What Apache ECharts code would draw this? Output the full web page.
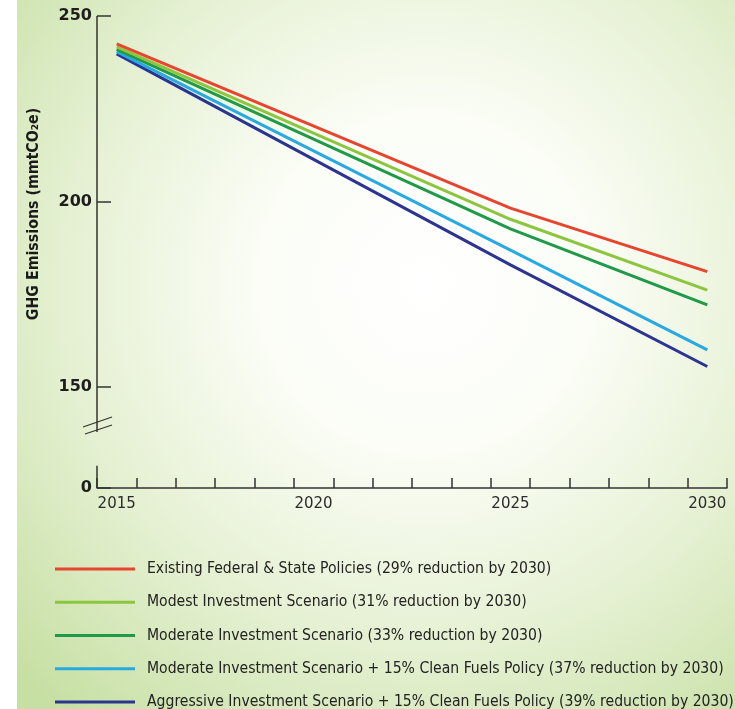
<!DOCTYPE html>
<html>
<head>
<meta charset="utf-8">
<script src="https://cdn.jsdelivr.net/npm/echarts@6/dist/echarts.min.js"></script>
<style>
  html, body { margin: 0; padding: 0; background: #ffffff; }
  #chart { width: 735px; height: 709px; }
</style>
</head>
<body>
<div id="chart"></div>
<script>
// Years on the horizontal axis (one band per year)
const years = ['2015','2016','2017','2018','2019','2020','2021','2022','2023','2024','2025','2026','2027','2028','2029','2030'];
const labelledYears = ['2015','2020','2025','2030'];

// Years at which each projection is given
const keyYears = ['2015','2025','2030'];

// GHG emissions, mmtCO2e, per scenario at the key years
const existingPolicies     = [242.5, 198.2, 181.1];
const modestInvestment     = [241.7, 195.2, 176.1];
const moderateInvestment   = [241.0, 192.6, 172.1];
const moderateCleanFuels   = [240.4, 186.9, 160.0];
const aggressiveCleanFuels = [239.8, 182.9, 155.5];

const scenarioNames = [
  'Existing Federal & State Policies (29% reduction by 2030)',
  'Modest Investment Scenario (31% reduction by 2030)',
  'Moderate Investment Scenario (33% reduction by 2030)',
  'Moderate Investment Scenario + 15% Clean Fuels Policy (37% reduction by 2030)',
  'Aggressive Investment Scenario + 15% Clean Fuels Policy (39% reduction by 2030)'
];
const scenarioValues = [existingPolicies, modestInvestment, moderateInvestment, moderateCleanFuels, aggressiveCleanFuels];
const scenarioColors = ['#e8452f', '#8cc63f', '#1e9a48', '#27aae1', '#2b3590'];

// Value axis: ticks shown and the collapsed stretch between them
const yTickValues = [0, 150, 200, 250];
const axisBreak = { start: 6, end: 140, gap: 11.25 };

const axisColor = '#333333';
const condensedFont = "'DejaVu Sans Condensed', 'Liberation Sans Narrow', 'Liberation Sans', sans-serif";
const chart = echarts.init(document.getElementById('chart'), null, { renderer: 'canvas' });

const series = scenarioNames.map((name, i) => ({
  name: name,
  type: 'line',
  data: keyYears.map((y, j) => [y, scenarioValues[i][j]]),
  symbol: 'none',
  lineStyle: { width: 3, color: scenarioColors[i] },
  itemStyle: { color: scenarioColors[i] },
  z: 10 - i
}));

chart.setOption({
  animation: false,
  grid: { left: 97, right: 8, top: 16, bottom: 221, containLabel: false },
  xAxis: {
    type: 'category',
    data: years,
    boundaryGap: true,
    axisLine: { show: true, lineStyle: { color: axisColor, width: 1.5 } },
    axisTick: { show: true, interval: 0, inside: true, length: 10, lineStyle: { color: axisColor, width: 1.5 } },
    axisLabel: {
      interval: (idx, val) => labelledYears.indexOf(val) >= 0,
      fontFamily: 'DejaVu Sans', fontSize: 15, color: '#2b2b2b', margin: 9
    },
    splitLine: { show: false }
  },
  yAxis: {
    type: 'value',
    min: 0,
    max: 250,
    breaks: [axisBreak],
    breakArea: { show: false },
    axisLine: { show: false },
    axisTick: { show: true, inside: true, length: 14, customValues: yTickValues, lineStyle: { color: axisColor, width: 1.5 } },
    axisLabel: {
      customValues: yTickValues,
      fontFamily: 'DejaVu Sans', fontWeight: 'bold', fontSize: 16, color: '#1e1e1e', margin: 5
    },
    splitLine: { show: false }
  },
  legend: {
    data: scenarioNames,
    orient: 'vertical',
    left: 55,
    top: 561,
    height: 300,
    padding: 0,
    icon: 'rect',
    itemWidth: 80,
    itemHeight: 3,
    itemGap: 17.25,
    selectedMode: false,
    textStyle: {
      fontFamily: condensedFont,
      fontSize: 15.6, lineHeight: 16, color: '#222222', padding: [0, 0, 0, 7]
    }
  },
  series: series
});

// Decorations tied to the axes: background panel, broken value-axis line, break marks, axis title
const ax = chart.convertToPixel({ xAxisIndex: 0 }, years[0]) - chart.getModel().getComponent('xAxis').axis.getBandWidth() / 2;
const yTop = chart.convertToPixel({ yAxisIndex: 0 }, 250);
const yBreakHi = chart.convertToPixel({ yAxisIndex: 0 }, axisBreak.end);
const yBreakLo = chart.convertToPixel({ yAxisIndex: 0 }, axisBreak.start);
const yZero = chart.convertToPixel({ yAxisIndex: 0 }, 0);
const lineStyle = { stroke: axisColor, lineWidth: 1.5 };

chart.setOption({
  graphic: [
    {
      type: 'rect', z: -100, silent: true,
      shape: { x: 17, y: 0, width: 718, height: 709 },
      style: {
        fill: new echarts.graphic.RadialGradient(0.57, 0.4, 0.8, [
          { offset: 0, color: '#ffffff' },
          { offset: 0.3, color: '#fbfdf6' },
          { offset: 0.65, color: '#e4f0d1' },
          { offset: 1, color: '#c6dfa2' }
        ])
      }
    },
    { type: 'line', z: 50, shape: { x1: ax, y1: yTop, x2: ax, y2: yBreakHi + 8 }, style: lineStyle },
    { type: 'line', z: 50, shape: { x1: ax, y1: yBreakLo, x2: ax, y2: yZero }, style: lineStyle },
    { type: 'line', z: 50, shape: { x1: ax - 14, y1: yBreakHi + 3, x2: ax + 15, y2: yBreakHi - 7 }, style: { stroke: axisColor, lineWidth: 1.2 } },
    { type: 'line', z: 50, shape: { x1: ax - 12, y1: yBreakHi + 10, x2: ax + 15, y2: yBreakHi + 1 }, style: { stroke: axisColor, lineWidth: 1.2 } },
    {
      type: 'text', z: 50,
      x: 34, y: (yTop + yZero) / 2 - 38,
      rotation: Math.PI / 2,
      style: {
        text: 'GHG Emissions (mmtCO₂e)',
        fontFamily: "'DejaVu Sans Condensed', 'Liberation Sans Narrow', 'DejaVu Sans', sans-serif",
        fontWeight: 'bold', fontSize: 15.8, fill: '#1a1a1a',
        textAlign: 'center', textVerticalAlign: 'middle'
      }
    }
  ]
});
</script>
</body>
</html>
